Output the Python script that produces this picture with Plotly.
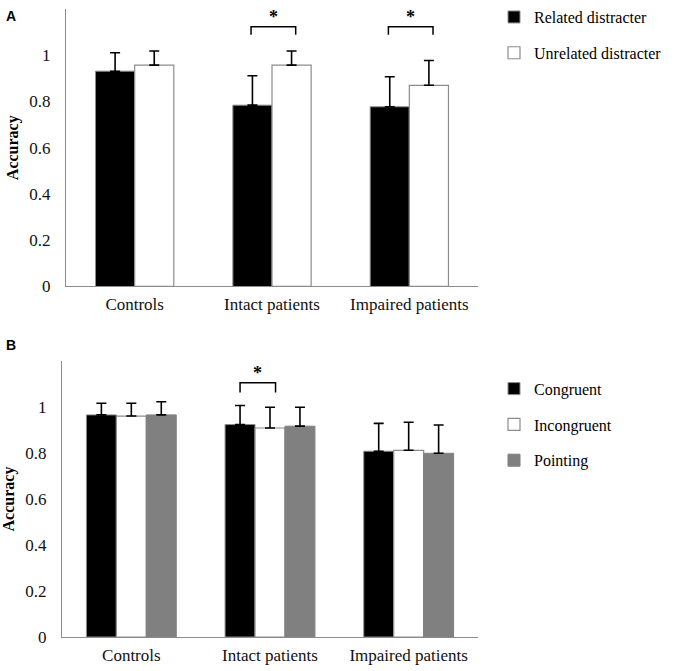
import plotly.graph_objects as go

# ---- data ----
categories = ["Controls", "Intact patients", "Impaired patients"]

# Panel A
a_related = [0.931, 0.784, 0.777]
a_related_err = [0.080, 0.127, 0.130]
a_unrelated = [0.957, 0.957, 0.870]
a_unrelated_err = [0.061, 0.061, 0.107]

# Panel B
b_congruent = [0.966, 0.924, 0.808]
b_congruent_err = [0.051, 0.083, 0.121]
b_incongruent = [0.961, 0.909, 0.812]
b_incongruent_err = [0.056, 0.090, 0.122]
b_pointing = [0.966, 0.917, 0.799]
b_pointing_err = [0.057, 0.082, 0.123]

ytickvals = [0, 0.2, 0.4, 0.6, 0.8, 1]
yticktext = ["0", "0.2", "0.4", "0.6", "0.8", "1"]

SERIF = "'Liberation Serif', 'DejaVu Serif', serif"
OUTLINE = "#8c8c8c"

fig = go.Figure()

# ---- panel A bars ----
wa = 0.285
def errbar(arr):
    return dict(type="data", symmetric=False, array=arr, arrayminus=[0] * len(arr),
                color="black", thickness=1.6, width=5)

fig.add_trace(go.Bar(x=categories, y=a_related, name="Related distracter",
                     width=wa, offset=-wa, marker=dict(color="black", line=dict(color=OUTLINE, width=1)),
                     error_y=errbar(a_related_err), xaxis="x", yaxis="y",
                     legend="legend", legendgroup="a1"))
fig.add_trace(go.Bar(x=categories, y=a_unrelated, name="Unrelated distracter",
                     width=wa, offset=0, marker=dict(color="white", line=dict(color=OUTLINE, width=1.2)),
                     error_y=errbar(a_unrelated_err), xaxis="x", yaxis="y",
                     legend="legend", legendgroup="a2"))

# ---- panel B bars ----
wb = 0.216
fig.add_trace(go.Bar(x=categories, y=b_congruent, name="Congruent",
                     width=wb, offset=-1.5 * wb, marker=dict(color="black", line=dict(color=OUTLINE, width=1)),
                     error_y=errbar(b_congruent_err), xaxis="x2", yaxis="y2",
                     legend="legend2", legendgroup="b1"))
fig.add_trace(go.Bar(x=categories, y=b_incongruent, name="Incongruent",
                     width=wb, offset=-0.5 * wb, marker=dict(color="white", line=dict(color=OUTLINE, width=1.2)),
                     error_y=errbar(b_incongruent_err), xaxis="x2", yaxis="y2",
                     legend="legend2", legendgroup="b2"))
fig.add_trace(go.Bar(x=categories, y=b_pointing, name="Pointing",
                     width=wb, offset=0.5 * wb, marker=dict(color="#808080", line=dict(color="#808080", width=1)),
                     error_y=errbar(b_pointing_err), xaxis="x2", yaxis="y2",
                     legend="legend2", legendgroup="b3"))

# ---- significance brackets ----
def bracket(xref, yref, x0, x1, ytop, ybot, ystar):
    fig.add_shape(type="path", xref=xref, yref=yref,
                  path=f"M {x0},{ybot} L {x0},{ytop} L {x1},{ytop} L {x1},{ybot}",
                  line=dict(color="black", width=1.5))
    fig.add_annotation(x=(x0 + x1) / 2, y=ystar, xref=xref, yref=yref, text="<b>*</b>",
                       showarrow=False, font=dict(family=SERIF, size=18, color="black"))

# panel A: intact (index 1) and impaired (index 2), spanning bar centres
for i in [1, 2]:
    bracket("x", "y", i - wa / 2 - 0.01, i + wa / 2 + 0.03, 1.123, 1.089, 1.165)
# panel B: intact congruent vs incongruent
bracket("x2", "y2", 1 - wb, 1 + 0.04, 1.106, 1.063, 1.15)

axis_common = dict(showgrid=False, zeroline=False, showline=True, linecolor="#8c8c8c",
                   linewidth=1.2, automargin=False)
TICKFONT = dict(family=SERIF, size=17, color="#111111")
TITLEFONT = dict(family=SERIF, size=16, color="black")

fig.update_layout(
    width=680, height=671,
    margin=dict(l=0, r=0, t=0, b=0),
    paper_bgcolor="white", plot_bgcolor="white",
    barmode="overlay",
    font=dict(family=SERIF, size=16, color="black"),
    xaxis=dict(domain=[66 / 680, 478 / 680], anchor="y", **axis_common,
               ticks="", tickfont=TICKFONT, ticklabelstandoff=2,
               range=[-0.5, 2.5]),
    yaxis=dict(domain=[1 - 283 / 671, 1 - 3 / 671], anchor="x", range=[0, 1.2], **axis_common,
               tickvals=ytickvals, ticktext=yticktext, ticks="",
               tickfont=TICKFONT, ticklabelstandoff=11,
               title=dict(text="<b>Accuracy</b>", font=TITLEFONT, standoff=6)),
    xaxis2=dict(domain=[62 / 680, 478 / 680], anchor="y2", **axis_common,
                ticks="", tickfont=TICKFONT, ticklabelstandoff=2,
                range=[-0.5, 2.5]),
    yaxis2=dict(domain=[1 - 636.7 / 671, 1 - 358.3 / 671], anchor="x2", range=[0, 1.2], **axis_common,
                tickvals=ytickvals, ticktext=yticktext, ticks="",
                tickfont=TICKFONT, ticklabelstandoff=11,
                title=dict(text="<b>Accuracy</b>", font=TITLEFONT, standoff=6)),
    legend=dict(x=494 / 680, y=1 + 6 / 671, xanchor="left", yanchor="top",
                font=dict(family=SERIF, size=16), tracegroupgap=12, bgcolor="rgba(0,0,0,0)"),
    legend2=dict(x=494 / 680, y=1 - 369 / 671, xanchor="left", yanchor="top",
                 font=dict(family=SERIF, size=16), tracegroupgap=12, bgcolor="rgba(0,0,0,0)"),
    showlegend=True,
)

# panel labels
fig.add_annotation(x=4 / 680, y=1 - 10 / 671, xref="paper", yref="paper", text="<b>A</b>",
                   showarrow=False, xanchor="left", yanchor="middle",
                   font=dict(family="Liberation Sans", size=14, color="black"))
fig.add_annotation(x=4 / 680, y=1 - 342 / 671, xref="paper", yref="paper", text="<b>B</b>",
                   showarrow=False, xanchor="left", yanchor="middle",
                   font=dict(family="Liberation Sans", size=14, color="black"))

fig.write_html("out.html", config={"displayModeBar": False},
               post_script="document.body.style.margin='0';")
